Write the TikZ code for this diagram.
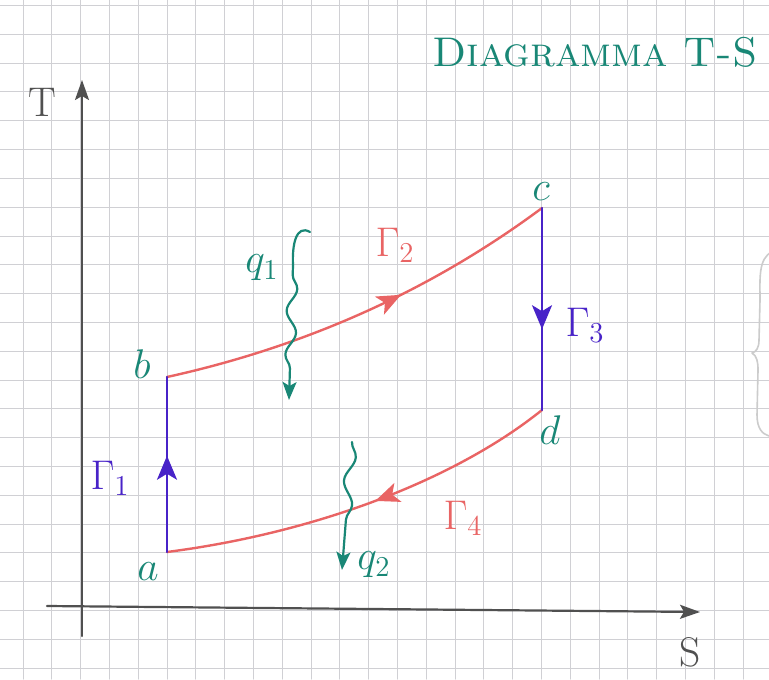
\documentclass[tikz,border=0pt]{standalone}
\usetikzlibrary{arrows.meta,decorations.markings,decorations.pathmorphing}
\definecolor{penred}{RGB}{233,100,100}
\definecolor{penblue}{RGB}{72,35,200}
\definecolor{penteal}{RGB}{25,135,118}
\definecolor{papergrid}{RGB}{208,208,212}
\definecolor{pencil}{RGB}{80,80,80}
\begin{document}
\begin{tikzpicture}[x=0.5pt,y=-0.5pt,>=Stealth, line join=round, line cap=round,
	redline/.style={color=penred,line width=1.2pt},
	blueline/.style={color=penblue,line width=1.2pt},
	midtip/.style={postaction={decorate,decoration={markings,mark=at position #1 with {\arrow{Stealth[length=12pt,width=10pt,inset=3pt]}}}}},
	pt/.style={text=penteal,font=\huge},
	gam/.style={font=\huge},
	heat/.style={draw=penteal,line width=1.1pt},
	heattip/.style={-{Stealth[length=9pt,width=7pt,inset=2pt]}}]
	\def\xl{167} \def\xr{542} % isoentropiche
	\useasboundingbox (0,0) rectangle (769,679);
	\fill[white] (0,0) rectangle (769,679);
	% quadretti
	\foreach \i in {0,...,26} \draw[papergrid,line width=0.5pt] (23+28.8*\i,0) -- (23+28.8*\i,679);
	\foreach \j in {0,...,23} \draw[papergrid,line width=0.5pt] (0,5.6+28.8*\j) -- (769,5.6+28.8*\j);
	% assi
	\coordinate (yfoot) at (82,636); \coordinate (ytop) at (82,80);
	\coordinate (xfoot) at (47,606); \coordinate (xtip) at (700,612);
	\draw[pencil,line width=1.1pt,-{Stealth[length=10pt,width=7pt,inset=2pt]}] (yfoot) -- (ytop);
	\draw[pencil,line width=1.1pt,-{Stealth[length=10pt,width=7pt,inset=2pt]}] (xfoot) -- (xtip);
	\node[pencil,font=\huge] (tlab) at (42,102) {T};
	\node[pencil,font=\huge] (slab) at (690,652) {S};
	\node[text=penteal] (title) at (595,52) {\huge\textsc{Diagramma T-S}};
	% ciclo
	\coordinate (a) at (\xl,552); \coordinate (b) at (\xl,377);
	\coordinate (c) at (\xr,208); \coordinate (d) at (\xr,410);
	\draw[redline,midtip=0.6] (b) .. controls (308,346) and (433,289) .. (c);
	\draw[redline,midtip=0.47] (d) .. controls (455,480) and (315,533) .. (a);
	\draw[blueline,midtip=0.55] (a) -- (b);
	\draw[blueline,midtip=0.6] (c) -- (d);
	\node[pt] (la) at (148,572) {$a$};
	\node[pt] (lb) at (142,364) {$b$};
	\node[pt] (lc) at (541,192) {$c$};
	\node[pt] (ld) at (550,430) {$d$};
	\node[gam,text=penblue] (g1) at (110,478) {$\Gamma_1$};
	\node[gam,text=penred] (g2) at (395,245) {$\Gamma_2$};
	\node[gam,text=penblue] (g3) at (585,325) {$\Gamma_3$};
	\node[gam,text=penred] (g4) at (463,518) {$\Gamma_4$};
	% calore
	\node[pt] (lq1) at (262,268) {$q_1$};
	\node[pt] (lq2) at (374,565) {$q_2$};
	\coordinate (q1top) at (310,232); \coordinate (q1mid) at (293,265); \coordinate (q1end) at (289,400);
	\draw[heat] (q1top) .. controls (296,224) and (292,245) .. (q1mid);
	\draw[heat,heattip,decorate,decoration={snake,amplitude=2.5pt,segment length=22pt,pre length=5pt,post length=14pt}] (q1mid) -- (q1end);
	\coordinate (q2top) at (352,442); \coordinate (q2end) at (342,570);
	\draw[heat,heattip,decorate,decoration={snake,amplitude=2.5pt,segment length=24pt,post length=14pt}] (q2top) -- (q2end);
	% graffa sul retro del foglio
	\draw[gray!40,line width=0.8pt] (772,252) .. controls (758,258) and (760,280) .. (760,300) -- (759,340) .. controls (759,348) and (756,352) .. (752,353) .. controls (757,356) and (758,362) .. (758,370) -- (757,415) .. controls (757,428) and (762,434) .. (769,436);
\end{tikzpicture}
\end{document}
